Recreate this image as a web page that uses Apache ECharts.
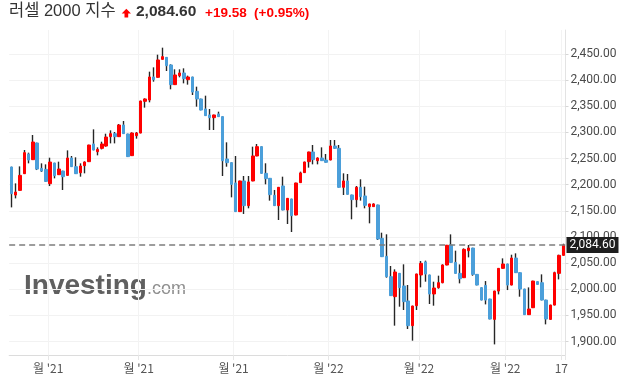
<!DOCTYPE html>
<html><head><meta charset="utf-8">
<script src="https://cdn.jsdelivr.net/npm/echarts@6/dist/echarts.min.js"></script>
<style>html,body{margin:0;padding:0;background:#fff}#c{width:631px;height:385px}</style>
</head><body><div id="c"></div>
<script>
// Daily candles (Sep 2021 - Mar 2022)
const opens = [2233.9,2180.3,2189.2,2221.1,2258.7,2247.9,2279.8,2231.3,2229.4,2202.0,
2241.5,2219.2,2226.2,2217.9,2251.1,2234.5,2223.0,2236.4,2244.1,2277.9,
2263.2,2269.6,2274.0,2291.9,2297.6,2291.9,2314.2,2297.0,2255.6,2293.8,
2298.9,2359.5,2362.0,2406.0,2405.4,2439.8,2443.6,2429.0,2391.4,2408.6,
2413.7,2400.9,2406.0,2378.6,2364.0,2344.8,2333.4,2328.3,2335.3,2330.2,
2249.2,2242.2,2203.3,2148.5,2207.2,2160.0,2207.2,2255.0,2272.8,2221.8,
2212.3,2179.8,2160.0,2197.6,2151.7,2172.7,2142.1,2204.0,2223.1,2244.1,
2262.6,2246.0,2251.1,2247.3,2247.3,2274.1,2269.6,2195.1,2207.2,2180.4,
2171.5,2195.1,2178.5,2158.1,2158.1,2161.3,2097.5,2063.1,2024.2,1986.0,
2030.6,2006.4,1977.7,1930.5,1968.7,2027.4,2052.3,2027.4,1991.1,2003.2,
2012.7,2046.5,2084.7,2051.5,2030.5,2022.2,2073.9,2078.9,2028.6,2003.1,
2007.5,1981.4,1942.5,1996.7,2040.1,2048.4,2008.2,2059.8,2031.8,2000.5,
1951.5,1964.8,2014.6,2012.6,1979.5,1942.5,1969.9,2030.5,2065.0];
const closes = [2182.9,2186.0,2217.9,2261.3,2247.3,2281.7,2230.0,2226.2,2206.4,2243.4,
2217.3,2230.0,2215.4,2251.1,2234.5,2221.1,2235.8,2243.4,2275.9,2266.4,
2267.6,2277.9,2291.2,2297.6,2291.9,2314.2,2297.7,2253.7,2298.9,2298.9,
2360.1,2364.0,2406.0,2400.9,2438.6,2444.9,2427.7,2391.4,2409.9,2413.7,
2402.8,2406.0,2377.3,2364.0,2342.9,2332.1,2328.3,2333.4,2330.2,2246.0,
2242.2,2200.8,2148.5,2207.2,2160.0,2205.3,2255.0,2272.8,2221.8,2211.6,
2181.0,2160.0,2195.1,2151.7,2174.0,2140.9,2203.3,2222.5,2243.5,2262.6,
2248.0,2251.1,2246.0,2242.9,2274.1,2269.6,2195.1,2207.2,2181.7,2171.5,
2195.1,2177.2,2160.6,2163.2,2163.2,2096.2,2062.4,2024.2,1987.9,2033.1,
2003.2,1976.4,1930.5,1968.1,2029.3,2049.7,2029.3,1991.1,2002.5,2012.7,
2046.5,2084.3,2051.5,2030.5,2020.3,2076.4,2078.9,2028.6,2008.2,1979.5,
1979.5,1943.2,1996.7,2040.1,2048.4,2008.2,2059.8,2031.8,2000.5,1951.5,
1962.3,2015.8,2009.5,1979.5,1943.2,1969.9,2031.8,2065.0,2084.6];
const lows = [2156.7,2173.9,2188.6,2220.5,2240.9,2247.3,2228.1,2224.3,2205.2,2197.5,
2212.2,2218.6,2189.9,2217.3,2234.0,2220.5,2215.4,2221.8,2243.5,2265.8,
2256.2,2267.6,2272.8,2279.1,2279.1,2291.3,2297.1,2253.1,2255.0,2288.1,
2298.3,2347.4,2357.6,2397.1,2404.8,2439.2,2417.5,2382.5,2390.8,2405.4,
2393.9,2391.4,2371.6,2349.3,2342.3,2331.5,2304.7,2304.7,2329.6,2216.7,
2234.5,2175.9,2147.9,2147.9,2144.1,2154.9,2206.6,2254.4,2221.2,2200.8,
2169.6,2159.4,2132.6,2151.1,2124.9,2109.6,2141.5,2203.4,2222.5,2232.7,
2239.0,2239.0,2245.4,2242.3,2246.7,2268.4,2194.5,2180.4,2181.1,2133.9,
2156.8,2169.6,2154.9,2126.2,2157.5,2094.3,2061.8,2022.3,1987.3,1930.5,
1966.8,1960.5,1924.1,1901.8,1960.5,2003.8,2014.6,1971.9,1968.7,2001.2,
2011.5,2045.9,2050.9,2029.9,2011.4,2021.6,2061.1,2026.0,2007.6,1978.9,
1971.2,1942.6,1894.7,1990.3,2039.4,1998.6,2007.6,2031.2,1985.9,1950.9,
1950.9,1964.2,2008.9,1978.9,1933.0,1941.9,1969.3,2019.0,2064.3];
const highs = [2234.5,2202.6,2235.1,2266.4,2261.3,2295.1,2280.4,2240.9,2239.0,2251.7,
2242.0,2244.1,2226.8,2265.7,2254.9,2252.4,2240.9,2244.7,2276.5,2305.9,
2271.5,2282.3,2297.6,2304.0,2300.8,2316.1,2321.9,2297.6,2300.2,2300.8,
2360.7,2365.2,2416.2,2424.5,2448.7,2462.1,2444.2,2430.3,2420.7,2420.7,
2422.6,2408.6,2406.6,2387.5,2364.6,2370.3,2344.8,2334.0,2339.7,2330.8,
2281.1,2242.8,2255.0,2207.8,2216.7,2216.7,2272.8,2277.9,2273.4,2241.0,
2212.9,2190.0,2195.7,2215.4,2174.6,2173.3,2203.9,2225.0,2244.1,2263.2,
2276.0,2252.4,2271.5,2258.8,2285.6,2285.6,2276.0,2221.8,2220.5,2181.0,
2197.6,2210.4,2196.3,2163.8,2164.5,2161.9,2108.3,2105.2,2044.6,2038.2,
2031.2,2047.8,2008.3,1968.7,2029.9,2054.2,2054.8,2028.0,2014.6,2026.1,
2047.8,2084.9,2105.1,2073.9,2047.7,2078.3,2084.7,2079.5,2029.2,2003.7,
2015.8,1982.0,1997.3,2040.7,2059.2,2049.0,2066.2,2068.8,2032.4,2001.1,
2003.7,2016.4,2015.2,2028.6,1980.1,1970.5,2033.7,2066.2,2087.2];
const categories = opens.map((_, i) => String(i));
const tickIndex = [9, 30, 52, 74, 95, 115, 128];
const tickText = ["월 '21", "월 '21", "월 '21", "월 '22", "월 '22", "월 '22", "17"];
const lastPrice = 2084.60;
const titleName = '러셀 2000 지수';
const titlePrice = '2,084.60';
const titleChange = '+19.58';
const titlePct = '(+0.95%)';

const UP = '#ff0000', DOWN = '#4b9fda', WICK = '#262626';
const fullData = opens.map((o, i) => [o, closes[i], lows[i], highs[i]]);
const bodyData = opens.map((o, i) => [o, closes[i], Math.min(o, closes[i]), Math.max(o, closes[i])]);
const isTick = (i) => tickIndex.indexOf(i) >= 0;
const fmtPrice = (v) => v.toLocaleString('en-US', {minimumFractionDigits: 2, maximumFractionDigits: 2});

const chart = echarts.init(document.getElementById('c'), null, {renderer: 'canvas'});
chart.setOption({
  animation: false,
  backgroundColor: '#fff',
  grid: {left: 9.17, right: 65.5, top: 30, bottom: 30, containLabel: false},
  xAxis: {
    type: 'category', data: categories, boundaryGap: true,
    axisLine: {show: true, lineStyle: {color: '#dcdcdc', width: 1}},
    axisTick: {show: true, interval: (i) => isTick(i), length: 5, lineStyle: {color: '#e6e6e6'}},
    splitLine: {show: true, interval: (i) => isTick(i), lineStyle: {color: '#f3f3f3'}},
    axisLabel: {
      interval: (i) => isTick(i),
      formatter: (v, i) => { const k = tickIndex.indexOf(Number(v)); return k >= 0 ? tickText[k] : ''; },
      color: '#555', fontSize: 12, margin: 7, padding: [0, 4, 0, 0],
      fontFamily: "'Liberation Sans Narrow', 'Noto Sans CJK KR', sans-serif"
    }
  },
  yAxis: {
    type: 'value', position: 'right', scale: true,
    min: 1874.4, max: 2495.9, splitNumber: 12, minInterval: 50, maxInterval: 50,
    axisLine: {show: true, lineStyle: {color: '#e3e3e3'}},
    axisTick: {show: true, length: 3, lineStyle: {color: '#d6d6d6'}},
    splitLine: {show: true, showMinLine: false, showMaxLine: false, lineStyle: {color: '#f2f2f2'}},
    axisLabel: {
      margin: 5, color: '#4a4a4a', fontSize: 12, fontFamily: 'Roboto, sans-serif',
      showMinLabel: false, showMaxLabel: false,
      formatter: (v) => (Math.abs(v % 50) < 1e-6 ? fmtPrice(v) : '')
    }
  },
  graphic: [
    {type: 'text', left: 9, top: 3, z: 10, style: {text: titleName, fill: '#333', font: "16.5px 'Liberation Sans', 'Noto Sans CJK KR', sans-serif"}},
    {type: 'polygon', z: 10, shape: {points: [[121.7, 13.6], [126.35, 8.8], [131, 13.6], [128.2, 13.6], [128.2, 17.6], [124.5, 17.6], [124.5, 13.6]]}, style: {fill: UP}},
    {type: 'text', left: 136, top: 4, z: 10, style: {text: titlePrice, fill: '#333', font: "bold 15.5px 'Liberation Sans', sans-serif"}},
    {type: 'text', left: 205, top: 6, z: 10, style: {text: titleChange, fill: UP, font: "bold 13.5px 'Liberation Sans', sans-serif"}},
    {type: 'text', left: 254, top: 6, z: 10, style: {text: titlePct, fill: UP, font: "bold 13.5px 'Liberation Sans', sans-serif"}},
    {type: 'text', left: 24, top: 272, z: 0, style: {text: 'Investing', fill: '#5f5f5f', font: "bold 28px 'Liberation Sans', sans-serif"}},
    {type: 'text', left: 147, top: 280, z: 0, style: {text: '.com', fill: '#8f8f8f', font: "18px 'Liberation Sans', sans-serif"}}
  ],
  series: [
    {
      type: 'candlestick', name: 'wick', data: fullData, barWidth: 1, silent: true,
      itemStyle: {color: WICK, color0: WICK, borderColor: WICK, borderColor0: WICK, borderWidth: 1.4}
    },
    {
      type: 'candlestick', name: 'body', data: bodyData, barWidth: 3, silent: true,
      itemStyle: {color: UP, color0: DOWN, borderColor: UP, borderColor0: DOWN, borderWidth: 1},
      markLine: {
        silent: true, symbol: ['none', 'none'],
        lineStyle: {color: '#7d7d7d', type: [6, 4], width: 1.5},
        label: {show: true, position: 'end', distance: 1, formatter: fmtPrice(lastPrice),
          backgroundColor: '#1e1e1e', color: '#fff', padding: [2, 3, 2, 3], fontSize: 12,
          fontFamily: 'Roboto, sans-serif'},
        data: [{yAxis: lastPrice}]
      }
    }
  ]
});
</script></body></html>
